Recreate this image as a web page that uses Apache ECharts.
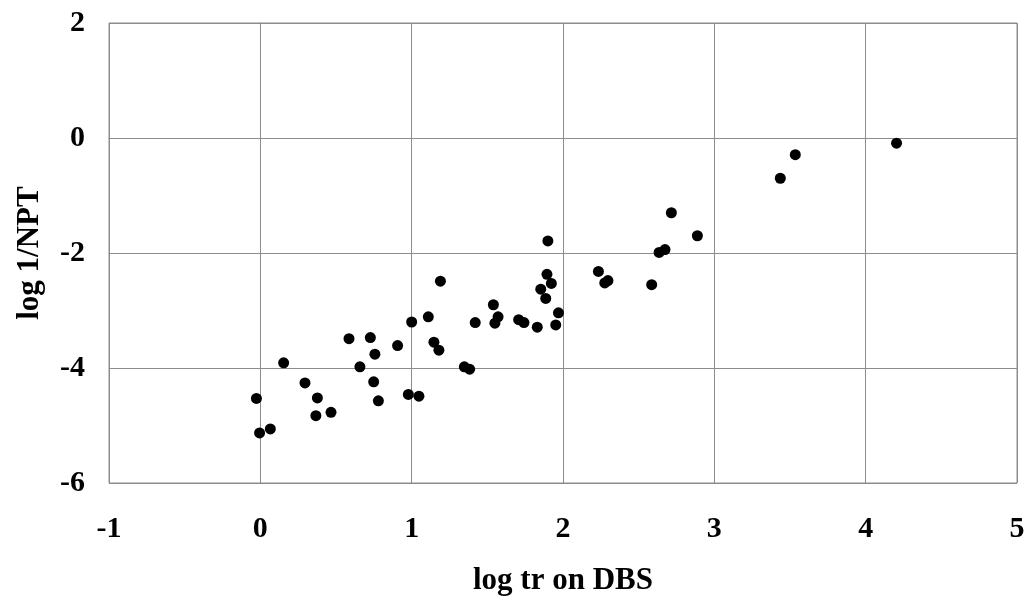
<!DOCTYPE html>
<html><head><meta charset="utf-8">
<script src="https://cdn.jsdelivr.net/npm/echarts@6/dist/echarts.min.js"></script>
<style>html,body{margin:0;padding:0;background:#fff}#c{width:1034px;height:612px}</style>
</head><body><div id="c"></div>
<script>
const xValues = [1.19,1.54,1.00,1.11,1.42,1.55,0.586,0.727,0.907,0.757,1.147,1.18,0.154,0.658,1.348,1.383,0.295,0.749,-0.026,0.377,0.978,1.048,0.78,0.367,0.467,-0.005,0.066,
  1.90,1.894,1.923,1.853,1.886,1.571,1.707,1.742,1.83,1.97,1.952,2.234,2.276,2.297,2.586,2.635,2.674,2.716,2.888,3.535,3.436,4.204];
const yValues = [-2.49,-2.90,-3.20,-3.11,-3.21,-3.22,-3.49,-3.47,-3.61,-3.76,-3.55,-3.69,-3.91,-3.98,-3.98,-4.02,-4.26,-4.24,-4.53,-4.52,-4.46,-4.49,-4.57,-4.83,-4.77,-5.13,-5.06,
  -1.79,-2.37,-2.53,-2.63,-2.79,-3.11,-3.16,-3.21,-3.29,-3.04,-3.25,-2.32,-2.52,-2.48,-2.55,-1.99,-1.94,-1.30,-1.70,-0.29,-0.70,-0.09];
const xTitle = 'log tr on DBS';
const yTitle = 'log 1/NPT';

const font = '"Liberation Serif","Times New Roman",serif';
const chart = echarts.init(document.getElementById('c'));
chart.setOption({
  animation:false,
  backgroundColor:'#fff',
  grid:{left:109,right:17,top:23,bottom:129,show:true,borderColor:'#8c8c8c',borderWidth:1},
  xAxis:{type:'value',min:-1,max:5,interval:1,
    name:xTitle,nameLocation:'middle',nameGap:82,
    nameTextStyle:{fontFamily:font,fontWeight:'bold',fontSize:31,color:'#000'},
    axisLine:{show:true,lineStyle:{color:'#8c8c8c',width:1}},
    axisTick:{show:true,inside:false,length:8,lineStyle:{color:'#8c8c8c'}},
    axisLabel:{fontFamily:font,fontWeight:'bold',fontSize:30,color:'#000',margin:31},
    splitLine:{show:true,lineStyle:{color:'#8c8c8c',width:1}}},
  yAxis:{type:'value',min:-6,max:2,interval:2,
    name:yTitle,nameLocation:'middle',nameGap:64,nameRotate:90,
    nameTextStyle:{fontFamily:font,fontWeight:'bold',fontSize:31,color:'#000'},
    axisLine:{show:true,lineStyle:{color:'#8c8c8c',width:1}},
    axisTick:{show:true,inside:false,length:8,lineStyle:{color:'#8c8c8c'}},
    axisLabel:{fontFamily:font,fontWeight:'bold',fontSize:30,color:'#000',margin:24},
    splitLine:{show:true,lineStyle:{color:'#8c8c8c',width:1}}},
  series:[{type:'scatter',symbol:'circle',symbolSize:11,
    itemStyle:{color:'#000',opacity:1},
    data:xValues.map((x,i)=>[x,yValues[i]])}]
});
</script></body></html>
